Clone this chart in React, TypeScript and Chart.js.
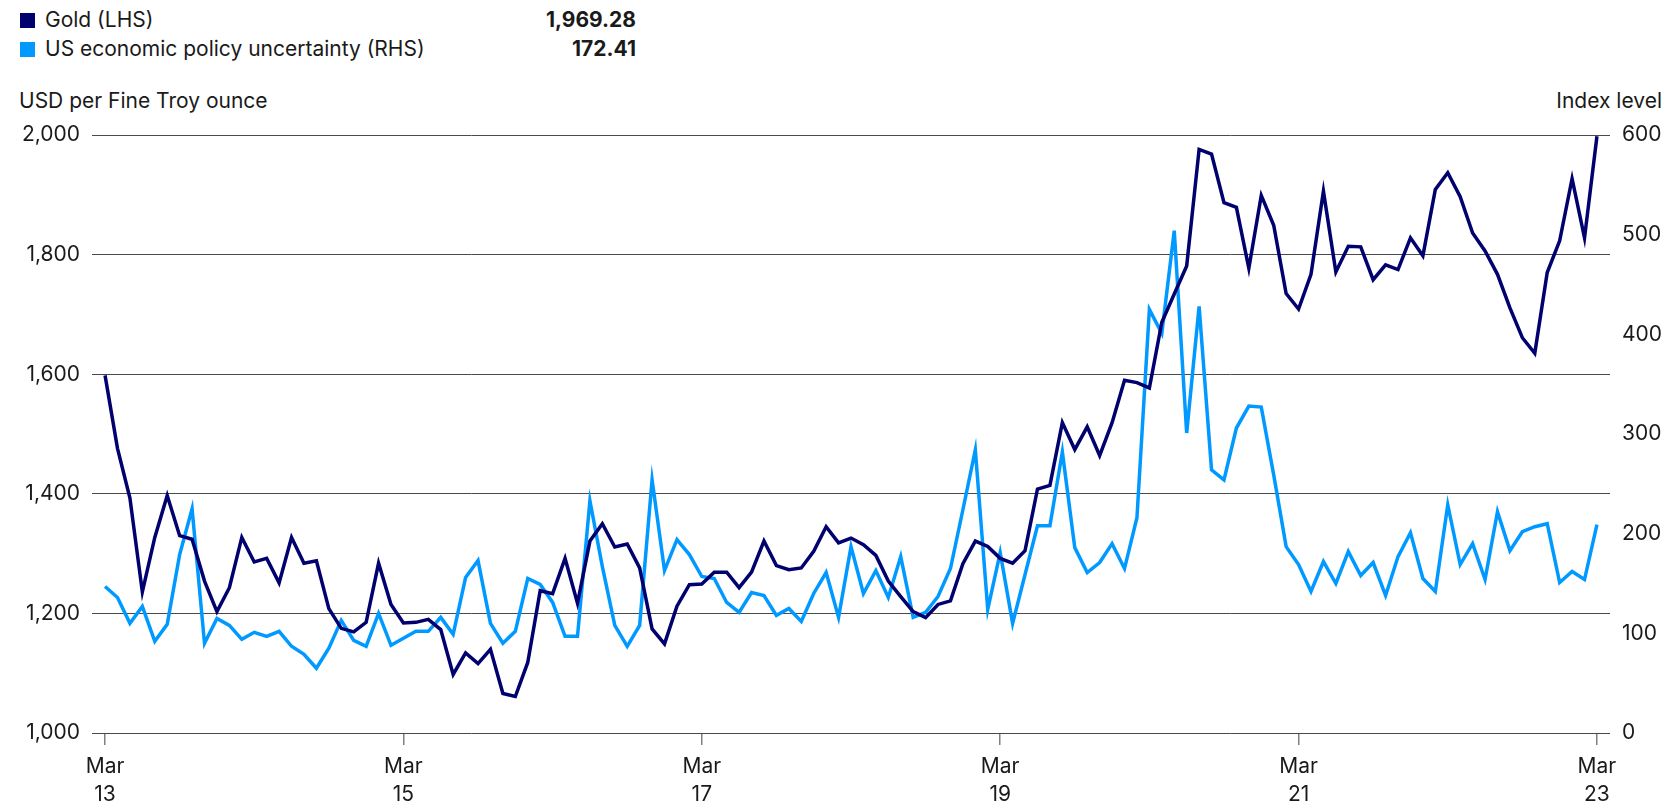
import { useEffect, useRef } from 'react';
import { Chart, registerables } from 'chart.js';

Chart.register(...registerables);

// Monthly observations, March 2013 through March 2023 (121 months)
const GOLD = [
  1598, 1476, 1393, 1236, 1327, 1397, 1330, 1324, 1254, 1203, 1243, 1327,
  1286, 1292, 1251, 1327, 1284, 1288, 1208, 1175, 1169, 1185, 1284, 1215,
  1184, 1185, 1190, 1173, 1098, 1134, 1116, 1140, 1066, 1061, 1118, 1238,
  1233, 1292, 1217, 1321, 1350, 1311, 1316, 1276, 1174, 1149, 1212, 1248,
  1249, 1269, 1269, 1243, 1269, 1321, 1280, 1273, 1276, 1304, 1345, 1318,
  1326, 1315, 1297, 1254, 1228, 1203, 1193, 1215, 1221, 1283, 1321, 1312,
  1292, 1284, 1305, 1408, 1414, 1519, 1474, 1512, 1464, 1519, 1590, 1586,
  1577, 1687, 1734, 1781, 1976, 1968, 1887, 1879, 1777, 1899, 1849, 1735,
  1709, 1767, 1906, 1771, 1814, 1813, 1758, 1783, 1775, 1828, 1798, 1909,
  1937, 1897, 1836, 1806, 1767, 1711, 1661, 1635, 1770, 1823, 1927, 1828,
  1998,
];

const EPU = [
  147, 136, 110, 127, 92, 109, 179, 225, 90, 115, 108, 94,
  101, 97, 102, 87, 79, 65, 85, 113, 93, 87, 120, 88,
  95, 102, 102, 116, 99, 156, 173, 110, 90, 102, 155, 149,
  131, 97, 97, 233, 167, 108, 87, 108, 254, 163, 194, 179,
  157, 155, 131, 121, 141, 138, 118, 125, 112, 140, 161, 116,
  187, 140, 163, 136, 177, 116, 121, 137, 165, 224, 284, 124,
  181, 110, 159, 208, 208, 282, 186, 161, 171, 190, 165, 216,
  425, 401, 504, 301, 428, 264, 254, 306, 328, 327, 259, 187,
  169, 142, 172, 150, 182, 158, 171, 138, 177, 201, 155, 142,
  229, 169, 190, 154, 222, 183, 202, 207, 210, 151, 162, 154,
  209,
];

const TICK_INDEX = [0, 24, 48, 72, 96, 120];
const TICK_LABELS = [
  ['Mar', '13'],
  ['Mar', '15'],
  ['Mar', '17'],
  ['Mar', '19'],
  ['Mar', '21'],
  ['Mar', '23'],
];

const SERIES_NAMES = ['Gold (LHS)', 'US economic policy uncertainty (RHS)'];
const LATEST_VALUES = ['1,969.28', '172.41'];

const NAVY = '#00006e';
const SKY = '#0099ff';
const TEXT = '#1a1a1a';
const FONT = 'Inter, "Noto Sans", sans-serif';
const COLORS = [NAVY, SKY];

export default function App() {
  const canvasRef = useRef<HTMLCanvasElement | null>(null);

  useEffect(() => {
    const canvas = canvasRef.current;
    if (!canvas) return;
    const tickFont = { family: FONT, size: 21, lineHeight: 1.33 };
    const chart = new Chart(canvas, {
      type: 'line',
      data: {
        datasets: [
          {
            label: SERIES_NAMES[0],
            data: GOLD.map((y, x) => ({ x, y })),
            borderColor: NAVY,
            backgroundColor: NAVY,
            borderWidth: 3.5,
            pointRadius: 0,
            tension: 0,
            yAxisID: 'y',
          },
          {
            label: SERIES_NAMES[1],
            data: EPU.map((y, x) => ({ x, y })),
            borderColor: SKY,
            backgroundColor: SKY,
            borderWidth: 3.5,
            pointRadius: 0,
            tension: 0,
            yAxisID: 'y1',
          },
        ],
      },
      options: {
        responsive: false,
        animation: false,
        devicePixelRatio: 1,
        layout: { padding: { top: 135, left: 0, right: 0, bottom: 0 } },
        plugins: {
          legend: { display: false },
          tooltip: { enabled: false },
        },
        scales: {
          x: {
            type: 'linear',
            min: -1.05,
            max: 121.05,
            afterBuildTicks: (scale: any) => {
              scale.ticks = TICK_INDEX.map((value) => ({ value }));
            },
            afterFit: (scale: any) => {
              scale.height = 70;
            },
            ticks: {
              autoSkip: false,
              maxRotation: 0,
              padding: 8,
              color: TEXT,
              font: tickFont,
              callback: (value: any) => {
                const i = TICK_INDEX.indexOf(Number(value));
                return i >= 0 ? TICK_LABELS[i] : '';
              },
            },
            grid: {
              drawOnChartArea: false,
              drawTicks: true,
              tickLength: 12,
              color: '#808080',
              lineWidth: 1.5,
            },
            border: { display: false },
          },
          y: {
            position: 'left',
            min: 1000,
            max: 2000,
            afterFit: (scale: any) => {
              scale.width = 92;
            },
            ticks: { stepSize: 200, padding: 12, color: TEXT, font: tickFont },
            grid: { color: '#4a4a4a', lineWidth: 1, drawTicks: false },
            border: { display: false },
          },
          y1: {
            position: 'right',
            min: 0,
            max: 600,
            afterFit: (scale: any) => {
              scale.width = 69;
            },
            ticks: { stepSize: 100, padding: 12, color: TEXT, font: tickFont },
            grid: { display: false, drawTicks: false },
            border: { display: false },
          },
        },
      },
    });
    return () => chart.destroy();
  }, []);

  return (
    <div
      style={{
        position: 'absolute',
        left: 0,
        top: 0,
        width: 1679,
        height: 803,
        background: '#fff',
        fontFamily: FONT,
        color: TEXT,
        overflow: 'hidden',
      }}
    >
      {SERIES_NAMES.map((name, i) => (
        <div key={name}>
          <div
            style={{
              position: 'absolute',
              left: 20,
              top: 13 + i * 28.6,
              width: 15,
              height: 15,
              background: COLORS[i],
            }}
          />
          <div
            style={{
              position: 'absolute',
              left: 45,
              top: 6 + i * 28.6,
              fontSize: 21,
              lineHeight: '28px',
              whiteSpace: 'nowrap',
            }}
          >
            {name}
          </div>
          <div
            style={{
              position: 'absolute',
              right: 1679 - 636,
              top: 6 + i * 28.6,
              fontSize: 21,
              lineHeight: '28px',
              fontWeight: 700,
              whiteSpace: 'nowrap',
            }}
          >
            {LATEST_VALUES[i]}
          </div>
        </div>
      ))}
      <div
        style={{
          position: 'absolute',
          left: 19,
          top: 87,
          fontSize: 21,
          lineHeight: '28px',
          whiteSpace: 'nowrap',
        }}
      >
        USD per Fine Troy ounce
      </div>
      <div
        style={{
          position: 'absolute',
          right: 1679 - 1662,
          top: 87,
          fontSize: 21,
          lineHeight: '28px',
          whiteSpace: 'nowrap',
        }}
      >
        Index level
      </div>
      <canvas
        ref={canvasRef}
        width={1679}
        height={803}
        style={{ position: 'absolute', left: 0, top: 0, width: 1679, height: 803 }}
      />
    </div>
  );
}
